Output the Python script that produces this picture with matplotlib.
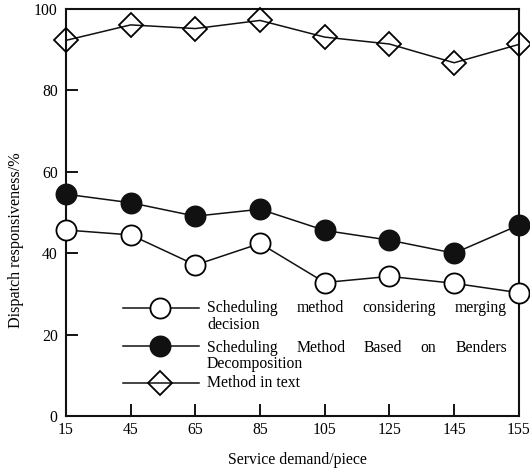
import matplotlib
matplotlib.use("Agg")
import matplotlib.pyplot as plt
from matplotlib.lines import Line2D

plt.rcParams['font.family'] = ['Liberation Serif', 'DejaVu Serif']
plt.rcParams['font.size'] = 11.3

# data
demand = ['15', '45', '65', '85', '105', '125', '145', '155']
merging = [45.7, 44.5, 37.1, 42.4, 32.8, 34.3, 32.6, 30.3]
benders = [54.5, 52.4, 49.1, 50.8, 45.6, 43.2, 40.0, 46.9]
in_text = [92.3, 96.1, 95.2, 97.2, 93.1, 91.4, 86.8, 91.3]

legend_rows = [
    ('Scheduling method considering merging', 'decision'),
    ('Scheduling Method Based on Benders', 'Decomposition'),
    ('Method in text', None),
]

fig = plt.figure(figsize=(5.3, 4.75), dpi=100)
ax = fig.add_axes([0.1245, 0.1242, 0.8545, 0.8568])

x = list(range(len(demand)))
lw = 1.1
styles = [
    dict(marker='o', mfc='white', mec='black', ms=14.5),
    dict(marker='o', mfc='#111111', mec='#111111', ms=14.5),
    dict(marker='D', mfc='none', mec='black', ms=12.5),
]
for vals, st in zip([merging, benders, in_text], styles):
    ax.plot(x, vals, color='#111111', lw=lw, mew=1.3, clip_on=False, zorder=3, **st)

ax.set_xlim(0, len(demand) - 1)
ax.set_ylim(0, 100)
ax.set_xticks(x)
ax.set_xticklabels(demand)
ax.set_yticks([0, 20, 40, 60, 80, 100])
ax.tick_params(direction='in', length=8.5, width=1.3, top=False, right=False)
ax.tick_params(axis='x', pad=4.5)
ax.tick_params(axis='y', pad=6)
for s in ax.spines.values():
    s.set_linewidth(1.5)
    s.set_color('#111111')

fig.text(0.031, 1 - 240 / 475, 'Dispatch responsiveness/%', rotation=90,
         ha='center', va='center', fontsize=11.6)
fig.text(0.561, 0.032, 'Service demand/piece', ha='center', va='center')

# custom legend with justified text
def fx(px):
    return (px - 66) / 453.0

def fy(py):
    return (416 - py) / 407.0

line_y = [308, 346, 383]
text_y = [308, 348, 383]
cont_y = [325, 364]
text_left, text_right = 207, 507
fig.canvas.draw()
renderer = fig.canvas.get_renderer()
for i, ((first, second), st) in enumerate(zip(legend_rows, styles)):
    yy = fy(line_y[i])
    ty = fy(text_y[i])
    ax.add_line(Line2D([fx(123), fx(199)], [yy, yy], color='#111111', lw=lw,
                       transform=ax.transAxes, clip_on=False))
    ax.add_line(Line2D([fx(160)], [yy], color='#111111', mew=1.3,
                       transform=ax.transAxes, clip_on=False, zorder=4, **st))
    if second is None:
        ax.text(fx(text_left), ty, first, transform=ax.transAxes, va='center', ha='left')
        continue
    words = first.split()
    texts = [ax.text(0, ty, w, transform=ax.transAxes, va='center', ha='left') for w in words]
    widths = [t.get_window_extent(renderer).width for t in texts]
    gap = ((text_right - text_left) - sum(widths)) / (len(words) - 1)
    pos = text_left
    for t, w in zip(texts, widths):
        t.set_x(fx(pos))
        pos += w + gap
    ax.text(fx(text_left), fy(cont_y[i]), second, transform=ax.transAxes,
            va='center', ha='left')

fig.savefig('out.png', dpi=100)
